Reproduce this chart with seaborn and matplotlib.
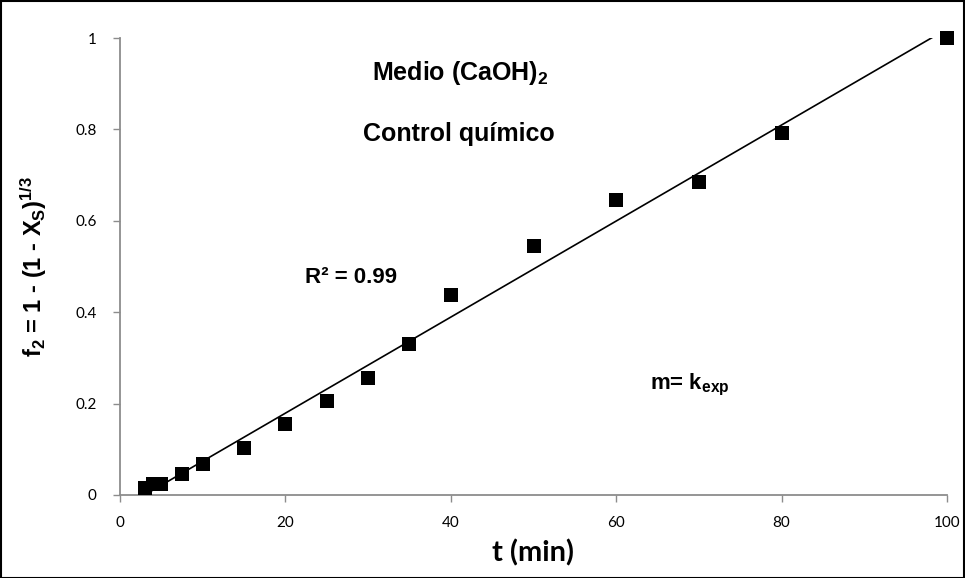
import numpy as np
import pandas as pd
import seaborn as sns
import matplotlib.pyplot as plt
from matplotlib.patches import Rectangle

t_min = [3, 4, 5, 7.5, 10, 15, 20, 25, 30, 35, 40, 50, 60, 70, 80, 100]
f2 = [0.016, 0.023, 0.023, 0.046, 0.067, 0.102, 0.155, 0.205, 0.256, 0.331, 0.437, 0.545, 0.646, 0.685, 0.793, 1.0]
x_ticks = [0, 20, 40, 60, 80, 100]
y_ticks = [0, 0.2, 0.4, 0.6, 0.8, 1.0]
y_tick_labels = ["0", "0.2", "0.4", "0.6", "0.8", "1"]

df = pd.DataFrame({"t": t_min, "f2": f2})

sns.set_theme(style="white")
plt.rcParams['font.family'] = ['Liberation Sans', 'DejaVu Sans']
plt.rcParams['mathtext.fontset'] = 'custom'
plt.rcParams['mathtext.rm'] = 'Liberation Sans:bold'
plt.rcParams['mathtext.bf'] = 'Liberation Sans:bold'
plt.rcParams['mathtext.it'] = 'Liberation Sans:bold'
plt.rcParams['text.color'] = 'black'
plt.rcParams['axes.labelcolor'] = 'black'

fig = plt.figure(figsize=(9.65, 5.78), dpi=100)
ax = fig.add_axes([120/965, 83/578, 827/965, 457/578])

# trendline
coef = np.polyfit(df["t"], df["f2"], 1)
xl = np.array([min(t_min), max(t_min)])
sns.lineplot(x=xl, y=np.polyval(coef, xl), ax=ax, color="black", lw=1.2, zorder=2)
sns.scatterplot(data=df, x="t", y="f2", ax=ax, marker="s", s=110, color="black",
                edgecolor="black", linewidth=0, zorder=3, clip_on=False)

ax.set_xlim(0, 100)
ax.set_ylim(0, 1)
ax.set_xticks(x_ticks)
ax.set_yticks(y_ticks)
ax.set_yticklabels(y_tick_labels)
for sp in ["top", "right"]:
    ax.spines[sp].set_visible(False)
for sp in ["left", "bottom"]:
    ax.spines[sp].set_color("#8c8c8c")
    ax.spines[sp].set_linewidth(1.3)
ax.tick_params(axis="both", direction="out", length=5, width=1, color="#8c8c8c",
               labelsize=11, labelcolor="black", left=True, bottom=True)
for lab in ax.get_xticklabels() + ax.get_yticklabels():
    lab.set_family(["Lato", "DejaVu Sans"])
ax.tick_params(axis="x", pad=10)
ax.tick_params(axis="y", pad=12)

ax.set_xlabel("t (min)", fontsize=21, fontweight="bold", family=["Lato", "DejaVu Sans"], labelpad=7)
ax.set_ylabel(r"$\mathbf{f_2}$ = 1 - (1 - X$_\mathbf{S}$)$^\mathbf{1/3}$", fontsize=17,
              fontweight="bold", labelpad=19)
ax.grid(False)

ax.text(41.1, 0.923, r"Medio (CaOH)$_\mathbf{2}$", fontsize=18, fontweight="bold", ha="center", va="center")
ax.text(41.0, 0.789, "Control químico", fontsize=18, fontweight="bold", ha="center", va="center")
ax.text(28.0, 0.477, "R² = 0.99", fontsize=16, fontweight="bold", ha="center", va="center")
ax.text(68.9, 0.241, r"m= k$_\mathbf{exp}$", fontsize=16, fontweight="bold", ha="center", va="center")

fig.patches.append(Rectangle((0.5/965, 0.5/578), 1 - 1.5/965, 1 - 1.5/578, transform=fig.transFigure,
                             fill=False, edgecolor="black", linewidth=1.5))

fig.savefig("out.png", dpi=100)
